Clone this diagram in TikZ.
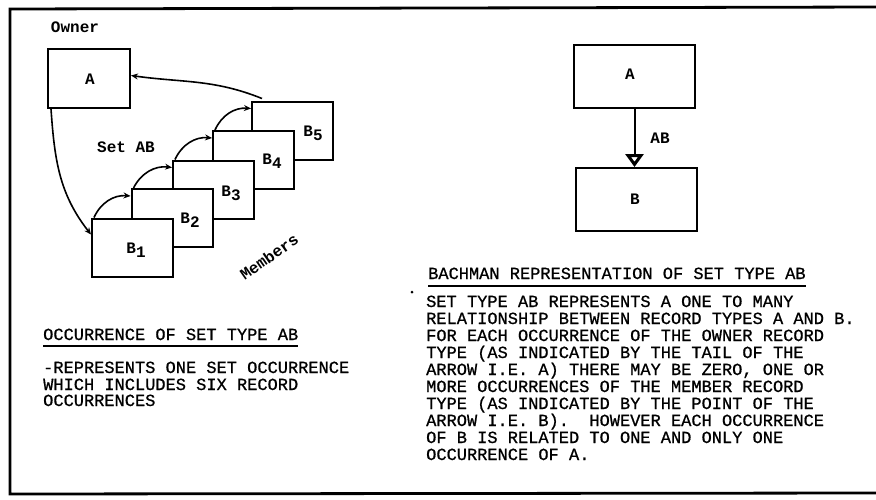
\documentclass[tikz,border=0pt]{standalone}
\usepackage{fontspec}
\setmonofont{Liberation Mono}
\newfontfamily\parafont[FakeBold=0.8]{Liberation Mono}
\usetikzlibrary{arrows.meta}
\begin{document}
\begin{tikzpicture}[x=1pt,y=-1pt,
  box/.style={draw,line width=2pt,fill=white,minimum width=81pt,minimum height=58pt,inner sep=0pt},
  bigbox/.style={draw,line width=2pt,fill=white,minimum width=121pt,minimum height=63pt,inner sep=0pt},
  lbl/.style={font=\ttfamily\bfseries\fontsize{16}{16}\selectfont,inner sep=0pt},
  txt/.style={font=\parafont\fontsize{17}{17}\selectfont,inner sep=0pt,anchor=base west},
  conn/.style={line width=1.6pt,-{Stealth[length=7pt,width=6pt]}},
  uline/.style={line width=1.3pt},
]
\useasboundingbox (0,0) rectangle (876,499);
% frame
\draw[line width=2.8pt] (876,7) -- (10,9) -- (10,494) -- (876,493);

% ---------- left: occurrence ----------
\node[lbl] (owner) at (75,27) {Owner};
\node[box,minimum width=82pt,minimum height=59pt] (A1) at (89,78.5) {};
\node[lbl] (A1l) at (90,79) {A};
\node[lbl] (setab) at (126,147) {Set AB};

\node[box] (B5) at (292.5,130.5) {};
\node[box] (B4) at (253.5,160) {};
\node[box] (B3) at (213.5,189.5) {};
\node[box] (B2) at (172,218) {};
\node[box] (B1) at (132.5,247.5) {};

\node[lbl] (b1l) at (136,250) {B\raisebox{-4pt}{1}};
\node[lbl] (b2l) at (190,220) {B\raisebox{-4pt}{2}};
\node[lbl] (b3l) at (231,193) {B\raisebox{-4pt}{3}};
\node[lbl] (b4l) at (272,161) {B\raisebox{-4pt}{4}};
\node[lbl] (b5l) at (313,133) {B\raisebox{-4pt}{5}};

\node[lbl,rotate=35] (members) at (269,257) {Members};

% chain arrows
\draw[conn] ([xshift=3pt]B1.north west) to[bend left=35] ([yshift=-8pt]B2.north west);
\draw[conn] ([xshift=3pt]B2.north west) to[bend left=35] ([yshift=-8pt]B3.north west);
\draw[conn] ([xshift=3pt]B3.north west) to[bend left=35] ([yshift=-8pt]B4.north west);
\draw[conn] ([xshift=3pt]B4.north west) to[bend left=35] ([yshift=-8pt]B5.north west);
% owner to first member
\draw[conn] ([xshift=4pt]A1.south west) to[out=-86,in=128] ([yshift=-17pt]B1.north west);
% last member back to owner
\draw[conn] ([xshift=11pt,yshift=2pt]B5.north west) to[out=158,in=-8] ([yshift=3pt]A1.east);

% left text
\node[txt] (occh) at (43,340) {OCCURRENCE OF SET TYPE AB};
\draw[uline] ([yshift=-6pt]occh.base west) -- ([yshift=-6pt]occh.base east);
\node[txt] (occ1) at (43,373) {-REPRESENTS ONE SET OCCURRENCE};
\node[txt] (occ2) at (43,390) {WHICH INCLUDES SIX RECORD};
\node[txt] (occ3) at (43,406) {OCCURRENCES};

% ---------- right: Bachman ----------
\node[bigbox] (A2) at (634.5,76.5) {};
\node[lbl] (A2l) at (630,74) {A};
\node[bigbox] (B6) at (636.5,199.5) {};
\node[lbl] (B6l) at (635,199) {B};
\draw[line width=2pt,-{Triangle[open,length=13pt,width=18pt,line width=3pt]}] (A2.south) -- (A2.south |- B6.north);
\node[lbl] (abl) at (660,138) {AB};

\node[txt] (bh) at (428,279) {BACHMAN REPRESENTATION OF SET TYPE AB};
\draw[uline] ([yshift=-7pt]bh.base west) -- ([yshift=-7pt]bh.base east);
\fill (412,292) circle (1.5pt);

\foreach \t [count=\i from 0] in {
  SET TYPE AB REPRESENTS A ONE TO MANY,
  RELATIONSHIP BETWEEN RECORD TYPES A AND B.,
  FOR EACH OCCURRENCE OF THE OWNER RECORD,
  TYPE (AS INDICATED BY THE TAIL OF THE,
  ARROW I.E. A) THERE MAY BE ZERO{,} ONE OR,
  MORE OCCURRENCES OF THE MEMBER RECORD,
  TYPE (AS INDICATED BY THE POINT OF THE,
  ARROW I.E. B).\ \ HOWEVER EACH OCCURRENCE,
  OF B IS RELATED TO ONE AND ONLY ONE,
  OCCURRENCE OF A.}
  \node[txt] (p\i) at (426,307+17*\i) {\t};
\end{tikzpicture}
\end{document}
